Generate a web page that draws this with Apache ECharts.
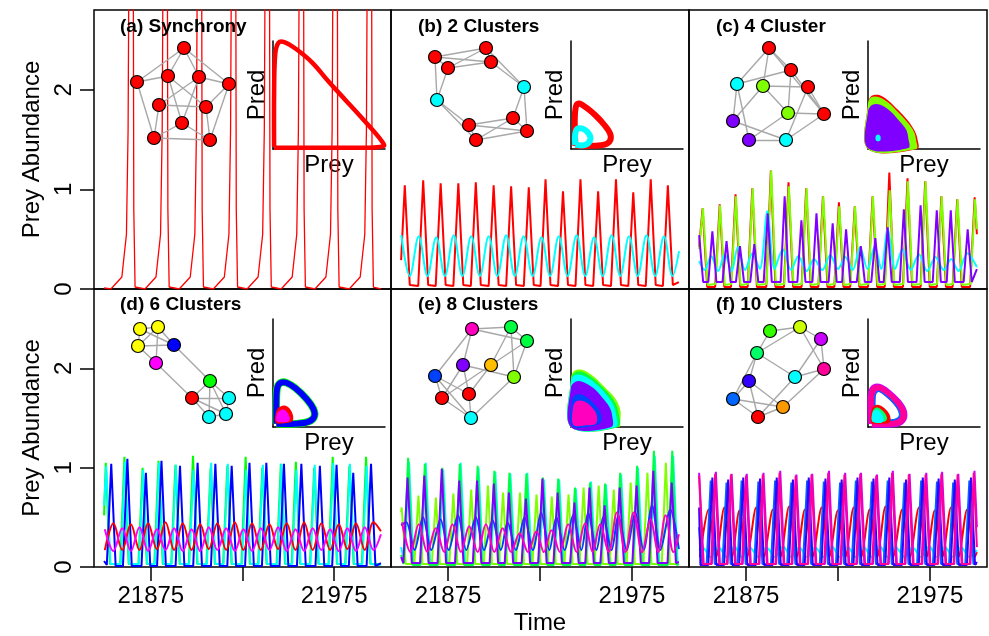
<!DOCTYPE html>
<html>
<head>
<meta charset="utf-8">
<script src="https://cdn.jsdelivr.net/npm/echarts/dist/echarts.min.js"></script>
<style>html,body{margin:0;background:#fff}#main{width:989px;height:636px}</style>
</head>
<body>
<div id="main"></div>
<script>
// ---- axis values ----
var timeTicks = [21875, 21925, 21975];
var timeLabels = [21875, 21975];
var preyTicks = [0, 1, 2];
var titles = ['(a) Synchrony', '(b) 2 Clusters', '(c) 4 Cluster', '(d) 6 Clusters', '(e) 8 Clusters', '(f) 10 Clusters'];

// ---- time series (time, prey) ----
var aRed = [[21849.5,0.01],[21853.2,0],[21859.2,0.12],[21861.7,0.55],[21862.6,1.6],[21863.1,3.5],[21864.2,6],[21865.4,3.5],[21865.7,0.8],[21866.4,0.02],
[21871.8,0],[21877.8,0.12],[21880.3,0.55],[21881.2,1.6],[21881.7,3.5],[21882.8,6],[21884.0,3.5],[21884.3,0.8],[21885.0,0.02],
[21890.5,0],[21896.5,0.12],[21899.0,0.55],[21899.9,1.6],[21900.4,3.5],[21901.5,6],[21902.7,3.5],[21903.0,0.8],[21903.7,0.02],
[21909.1,0],[21915.1,0.12],[21917.6,0.55],[21918.5,1.6],[21919.0,3.5],[21920.1,6],[21921.3,3.5],[21921.6,0.8],[21922.3,0.02],
[21927.5,0],[21933.5,0.12],[21936.0,0.55],[21936.9,1.6],[21937.4,3.5],[21938.5,6],[21939.7,3.5],[21940.0,0.8],[21940.7,0.02],
[21946.1,0],[21952.1,0.12],[21954.6,0.55],[21955.5,1.6],[21956.0,3.5],[21957.1,6],[21958.3,3.5],[21958.6,0.8],[21959.3,0.02],
[21964.5,0],[21970.5,0.12],[21973.0,0.55],[21973.9,1.6],[21974.4,3.5],[21975.5,6],[21976.7,3.5],[21977.0,0.8],[21977.7,0.02],
[21983.2,0],[21989.2,0.12],[21991.7,0.55],[21992.6,1.6],[21993.1,3.5],[21994.2,6],[21995.4,3.5],[21995.7,0.8],[21996.4,0.02],[22000.5,0]];

var bRed = [[21849.5,0.29],[21851.5,1.04],[21854.2,0.04],[21858.8,0.03],[21861.5,1.09],[21864.2,0.04],[21868.3,0.03],[21871.0,1.06],[21873.7,0.04],[21877.9,0.03],[21880.6,1.06],[21883.3,0.04],[21887.4,0.03],[21890.1,1.07],[21892.8,0.04],[21897.1,0.03],[21899.8,1.04],[21902.5,0.04],[21906.6,0.03],[21909.3,1.03],[21912.0,0.04],[21916.2,0.03],[21918.9,1.02],[21921.6,0.04],[21925.3,0.03],[21928.0,1.10],[21930.7,0.04],[21934.8,0.03],[21937.5,0.98],[21940.2,0.04],[21944.3,0.03],[21947.0,1.10],[21949.7,0.04],[21953.9,0.03],[21956.6,0.98],[21959.3,0.04],[21963.6,0.03],[21966.3,1.10],[21969.0,0.04],[21973.0,0.03],[21975.7,0.97],[21978.4,0.04],[21982.5,0.03],[21985.2,1.10],[21987.9,0.04],[21991.8,0.03],[21994.5,1.04],[21997.2,0.04],[22000.5,0.07]];
var bCyan = [[21849.6,0.54],[21854.2,0.13],[21859.1,0.53],[21863.8,0.13],[21868.6,0.52],[21873.3,0.13],[21878.1,0.54],[21882.8,0.13],[21887.6,0.53],[21892.3,0.13],[21897.1,0.53],[21901.8,0.13],[21906.6,0.54],[21911.3,0.13],[21916.1,0.53],[21921.0,0.13],[21925.8,0.52],[21930.5,0.13],[21935.2,0.53],[21940.0,0.13],[21944.9,0.54],[21949.6,0.13],[21954.4,0.52],[21959.1,0.13],[21963.9,0.54],[21968.6,0.13],[21973.4,0.53],[21978.1,0.13],[21982.9,0.54],[21987.6,0.13],[21992.4,0.53],[21997.0,0.13],[22000.6,0.38]];

var cRed = [[21849.5,0.42],[21851.4,0.81],[21853.9,0.02],[21858.2,0.02],[21860.7,0.85],[21863.2,0.02],[21866.8,0.02],[21869.3,0.95],[21871.8,0.02],[21875.9,0.02],[21878.4,1.01],[21880.9,0.02],[21886.0,0.02],[21888.5,1.19],[21891.0,0.02],[21895.6,0.02],[21898.1,1.07],[21900.6,0.02],[21905.2,0.02],[21907.7,1.01],[21910.2,0.02],[21914.3,0.02],[21916.8,0.93],[21919.3,0.02],[21923.0,0.02],[21925.5,0.87],[21928.0,0.02],[21931.6,0.02],[21934.1,0.83],[21936.6,0.02],[21941.3,0.02],[21943.8,0.93],[21946.3,0.02],[21950.4,0.02],[21952.9,1.17],[21955.4,0.02],[21960.3,0.02],[21962.8,1.11],[21965.3,0.02],[21969.9,0.02],[21972.4,1.08],[21974.9,0.02],[21978.7,0.02],[21981.2,0.93],[21983.7,0.02],[21987.3,0.02],[21989.8,0.90],[21992.3,0.02],[21996.8,0.02],[21999.3,0.92],[22000.5,0.55]];
var cGreen = [[21849.5,0.4],[21851.6,0.81],[21854.1,0.04],[21858.4,0.05],[21860.9,0.84],[21863.4,0.04],[21867.0,0.05],[21869.5,0.93],[21872.0,0.04],[21876.1,0.05],[21878.6,1.01],[21881.1,0.04],[21886.2,0.05],[21888.7,1.19],[21891.2,0.04],[21895.8,0.05],[21898.3,1.03],[21900.8,0.04],[21905.4,0.05],[21907.9,1.01],[21910.4,0.04],[21914.5,0.05],[21917.0,0.93],[21919.5,0.04],[21923.2,0.05],[21925.7,0.83],[21928.2,0.04],[21931.8,0.05],[21934.3,0.83],[21936.8,0.04],[21941.5,0.05],[21944.0,0.93],[21946.5,0.04],[21950.6,0.05],[21953.1,0.99],[21955.6,0.04],[21960.5,0.05],[21963.0,1.08],[21965.5,0.04],[21970.1,0.05],[21972.6,1.08],[21975.1,0.04],[21978.9,0.05],[21981.4,0.93],[21983.9,0.04],[21987.5,0.05],[21990.0,0.90],[21992.5,0.04],[21997.0,0.05],[21999.5,0.90],[22000.5,0.6]];
var cCyan = [[21849.5,0.28],[21852.5,0.19],[21856.0,0.33],[21859.8,0.18],[21863.5,0.35],[21867.2,0.18],[21870.5,0.42],[21874.5,0.19],[21878.5,0.36],[21882.5,0.2],[21886.6,0.78],[21890.5,0.2],[21895.0,0.40],[21899.5,0.19],[21903.5,0.33],[21908.0,0.18],[21912.0,0.30],[21916.5,0.19],[21920.8,0.34],[21925.0,0.2],[21929.0,0.32],[21933.0,0.19],[21937.0,0.42],[21941.0,0.2],[21945.0,0.43],[21948.5,0.2],[21952.0,0.61],[21956.0,0.2],[21960.0,0.40],[21964.5,0.19],[21969.0,0.35],[21973.5,0.18],[21978.0,0.32],[21982.5,0.19],[21986.5,0.30],[21990.5,0.18],[21995.3,0.36],[22000.5,0.22]];
var cPurple = [[21849.5,0.54],[21851.7,0.07],[21854.5,0.07],[21856.7,0.58],[21858.9,0.07],[21862.2,0.07],[21864.4,0.48],[21866.6,0.07],[21869.5,0.07],[21871.7,0.43],[21873.9,0.07],[21877.3,0.07],[21879.5,0.45],[21881.7,0.07],[21884.6,0.07],[21886.8,0.76],[21889.0,0.07],[21893.8,0.07],[21896.0,0.93],[21898.2,0.07],[21902.9,0.07],[21905.1,0.69],[21907.3,0.07],[21911.1,0.07],[21913.3,0.76],[21915.5,0.07],[21919.9,0.07],[21922.1,0.66],[21924.3,0.07],[21927.2,0.07],[21929.4,0.60],[21931.6,0.07],[21935.2,0.07],[21937.4,0.43],[21939.6,0.07],[21943.1,0.07],[21945.3,0.51],[21947.5,0.07],[21949.8,0.07],[21952.0,0.62],[21954.2,0.07],[21958.6,0.07],[21960.8,0.80],[21963.0,0.07],[21967.7,0.07],[21969.9,0.84],[21972.1,0.07],[21976.5,0.07],[21978.7,0.79],[21980.9,0.07],[21984.1,0.07],[21986.3,0.79],[21988.5,0.07],[21993.3,0.07],[21995.5,0.60],[21997.7,0.07],[22000.5,0.2]];

var dGreen = [[21849.5,0.52],[21850.4,1.05],[21852.7,0.03],[21858.3,0.03],[21860.6,1.11],[21862.9,0.03],[21868.2,0.03],[21870.5,1.00],[21872.8,0.03],[21876.9,0.03],[21879.2,1.07],[21881.5,0.03],[21886.1,0.03],[21888.4,1.03],[21890.7,0.03],[21895.7,0.03],[21898.0,1.12],[21900.3,0.03],[21905.3,0.03],[21907.6,1.00],[21909.9,0.03],[21914.4,0.03],[21916.7,1.02],[21919.0,0.03],[21924.4,0.03],[21926.7,1.11],[21929.0,0.03],[21933.5,0.03],[21935.8,1.00],[21938.1,0.03],[21943.6,0.03],[21945.9,1.04],[21948.2,0.03],[21951.8,0.03],[21954.1,1.06],[21956.4,0.03],[21961.8,0.03],[21964.1,1.00],[21966.4,0.03],[21971.9,0.03],[21974.2,1.11],[21976.5,0.03],[21981.0,0.03],[21983.3,1.02],[21985.6,0.03],[21990.1,0.03],[21992.4,1.11],[21994.7,0.03],[22000.5,0.03]];
var dCyan = [[21849.5,0.62],[21850.7,1.02],[21853.0,0.03],[21858.6,0.03],[21860.9,1.06],[21863.2,0.03],[21868.5,0.03],[21870.8,0.98],[21873.1,0.03],[21877.2,0.03],[21879.5,1.05],[21881.8,0.03],[21886.4,0.03],[21888.7,1.03],[21891.0,0.03],[21896.0,0.03],[21898.3,0.98],[21900.6,0.03],[21905.6,0.03],[21907.9,1.05],[21910.2,0.03],[21914.7,0.03],[21917.0,1.04],[21919.3,0.03],[21924.7,0.03],[21927.0,0.98],[21929.3,0.03],[21933.8,0.03],[21936.1,1.03],[21938.4,0.03],[21943.9,0.03],[21946.2,1.04],[21948.5,0.03],[21952.1,0.03],[21954.4,0.98],[21956.7,0.03],[21962.1,0.03],[21964.4,1.03],[21966.7,0.03],[21972.2,0.03],[21974.5,1.05],[21976.8,0.03],[21981.3,0.03],[21983.6,1.04],[21985.9,0.03],[21990.4,0.03],[21992.7,1.02],[21995.0,0.03],[22000.5,0.02]];
var dBlue = [[21849.5,0.06],[21851.0,0.02],[21853.4,1.04],[21855.8,0.01],[21859.8,0.01],[21862.2,1.09],[21864.6,0.01],[21869.9,0.01],[21872.3,0.95],[21874.7,0.01],[21878.4,0.01],[21880.8,1.07],[21883.2,0.01],[21888.5,0.01],[21890.9,1.02],[21893.3,0.01],[21898.1,0.01],[21900.5,1.05],[21902.9,0.01],[21907.8,0.01],[21910.2,1.04],[21912.6,0.01],[21916.7,0.01],[21919.1,1.02],[21921.5,0.01],[21926.4,0.01],[21928.8,1.05],[21931.2,0.01],[21935.6,0.01],[21938.0,1.05],[21940.4,0.01],[21945.2,0.01],[21947.6,1.04],[21950.0,0.01],[21954.7,0.01],[21957.1,1.04],[21959.5,0.01],[21964.8,0.01],[21967.2,1.02],[21969.6,0.01],[21973.9,0.01],[21976.3,1.03],[21978.7,0.01],[21983.0,0.01],[21985.4,0.95],[21987.8,0.01],[21992.7,0.01],[21995.1,1.04],[21997.5,0.01],[22000.5,0.04]];
var dRed = [[21849.9,0.17],[21854.6,0.44],[21859.4,0.17],[21864.1,0.43],[21868.8,0.17],[21873.5,0.44],[21878.3,0.18],[21883.0,0.45],[21887.7,0.17],[21892.4,0.44],[21897.2,0.17],[21901.9,0.43],[21906.6,0.18],[21911.3,0.44],[21916.1,0.17],[21920.8,0.45],[21925.5,0.17],[21930.2,0.44],[21935.0,0.17],[21939.7,0.43],[21944.4,0.18],[21949.1,0.44],[21953.9,0.17],[21958.6,0.45],[21963.3,0.17],[21968.0,0.44],[21972.8,0.17],[21977.5,0.43],[21982.2,0.18],[21986.9,0.44],[21991.7,0.17],[21996.4,0.45],[22000.5,0.36]];
var dMagenta = [[21849.9,0.38],[21854.6,0.16],[21859.4,0.39],[21864.1,0.16],[21868.8,0.40],[21873.5,0.16],[21878.3,0.38],[21883.0,0.17],[21887.7,0.39],[21892.4,0.16],[21897.2,0.38],[21901.9,0.16],[21906.6,0.40],[21911.3,0.17],[21916.1,0.39],[21920.8,0.16],[21925.5,0.38],[21930.2,0.16],[21935.0,0.39],[21939.7,0.17],[21944.4,0.40],[21949.1,0.16],[21953.9,0.38],[21958.6,0.16],[21963.3,0.39],[21968.0,0.17],[21972.8,0.38],[21977.5,0.16],[21982.2,0.39],[21986.9,0.16],[21991.7,0.40],[21996.4,0.17],[22000.5,0.33]];

var eCyan = [[21849.5,0.2],[21851.4,0.04],[21853.8,1.06],[21856.2,0.04],[21860.5,0.04],[21862.9,1.05],[21865.3,0.04],[21870.0,0.04],[21872.4,0.98],[21874.8,0.04],[21879.5,0.04],[21881.9,1.05],[21884.3,0.04],[21889.2,0.04],[21891.6,1.00],[21894.0,0.04],[21898.3,0.04],[21900.7,0.96],[21903.1,0.04],[21906.5,0.04],[21908.9,0.94],[21911.3,0.04],[21915.7,0.04],[21918.1,0.95],[21920.5,0.04],[21924.7,0.04],[21927.1,0.88],[21929.5,0.04],[21933.0,0.04],[21935.4,0.88],[21937.8,0.04],[21942.1,0.04],[21944.5,0.79],[21946.9,0.04],[21950.3,0.04],[21952.7,0.86],[21955.1,0.04],[21958.5,0.04],[21960.9,0.83],[21963.3,0.04],[21966.7,0.04],[21969.1,0.93],[21971.5,0.04],[21975.9,0.04],[21978.3,1.00],[21980.7,0.04],[21985.0,0.04],[21987.4,1.12],[21989.8,0.04],[21995.0,0.04],[21997.4,1.12],[21999.8,0.04],[22000.5,0.04]];
var eLime = [[21849.5,0.55],[21849.8,0.6],[21852.0,0.03],[21856.7,0.03],[21858.9,0.72],[21861.1,0.03],[21866.2,0.03],[21868.4,0.70],[21870.6,0.03],[21875.7,0.03],[21877.9,0.74],[21880.1,0.03],[21885.4,0.03],[21887.6,0.78],[21889.8,0.03],[21894.5,0.03],[21896.7,0.82],[21898.9,0.03],[21902.7,0.03],[21904.9,0.75],[21907.1,0.03],[21911.9,0.03],[21914.1,0.75],[21916.3,0.03],[21920.9,0.03],[21923.1,0.73],[21925.3,0.03],[21929.2,0.03],[21931.4,0.71],[21933.6,0.03],[21938.3,0.03],[21940.5,0.73],[21942.7,0.03],[21946.5,0.03],[21948.7,0.80],[21950.9,0.03],[21954.7,0.03],[21956.9,0.82],[21959.1,0.03],[21962.9,0.03],[21965.1,0.78],[21967.3,0.03],[21972.1,0.03],[21974.3,0.85],[21976.5,0.03],[21981.2,0.03],[21983.4,0.95],[21985.6,0.03],[21991.2,0.03],[21993.4,1.05],[21995.6,0.03],[22000.5,0.03]];
var eGreen = [[21849.5,0.12],[21850.9,0.03],[21853.3,1.10],[21855.7,0.02],[21860.0,0.02],[21862.4,1.04],[21864.8,0.02],[21869.5,0.02],[21871.9,1.00],[21874.3,0.02],[21879.0,0.02],[21881.4,1.04],[21883.8,0.02],[21888.7,0.02],[21891.1,1.02],[21893.5,0.02],[21897.8,0.02],[21900.2,0.97],[21902.6,0.02],[21906.0,0.02],[21908.4,0.95],[21910.8,0.02],[21915.2,0.02],[21917.6,0.94],[21920.0,0.02],[21924.2,0.02],[21926.6,0.90],[21929.0,0.02],[21932.5,0.02],[21934.9,0.89],[21937.3,0.02],[21941.6,0.02],[21944.0,0.80],[21946.4,0.02],[21949.8,0.02],[21952.2,0.85],[21954.6,0.02],[21958.0,0.02],[21960.4,0.84],[21962.8,0.02],[21966.2,0.02],[21968.6,0.95],[21971.0,0.02],[21975.4,0.02],[21977.8,1.02],[21980.2,0.02],[21984.5,0.02],[21986.9,1.17],[21989.3,0.02],[21994.5,0.02],[21996.9,1.17],[21999.3,0.02],[22000.5,0.03]];
var eBlue = [[21849.5,0.42],[21852.3,0.45],[21856.8,0.17],[21861.4,0.50],[21865.9,0.17],[21870.9,0.48],[21875.4,0.17],[21880.4,0.52],[21884.9,0.17],[21890.1,0.50],[21894.6,0.17],[21899.2,0.47],[21903.7,0.17],[21907.4,0.45],[21911.9,0.17],[21916.6,0.50],[21921.1,0.17],[21925.6,0.55],[21930.1,0.17],[21933.9,0.50],[21938.4,0.17],[21943.0,0.52],[21947.5,0.17],[21951.2,0.55],[21955.7,0.17],[21959.4,0.50],[21963.9,0.17],[21967.6,0.52],[21972.1,0.17],[21976.8,0.55],[21981.3,0.17],[21985.9,0.62],[21990.4,0.17],[21995.9,0.58],[22000.5,0.18]];
var ePurple = [[21849.5,0.1],[21850.7,0.04],[21853.0,0.90],[21855.3,0.04],[21859.8,0.04],[21862.1,0.92],[21864.4,0.04],[21869.3,0.04],[21871.6,0.99],[21873.9,0.04],[21878.8,0.04],[21881.1,0.87],[21883.4,0.04],[21888.5,0.04],[21890.8,0.87],[21893.1,0.04],[21897.6,0.04],[21899.9,0.84],[21902.2,0.04],[21905.8,0.04],[21908.1,0.75],[21910.4,0.04],[21915.0,0.04],[21917.3,0.69],[21919.6,0.04],[21924.0,0.04],[21926.3,0.89],[21928.6,0.04],[21932.3,0.04],[21934.6,0.75],[21936.9,0.04],[21941.4,0.04],[21943.7,0.65],[21946.0,0.04],[21949.6,0.04],[21951.9,0.80],[21954.2,0.04],[21957.8,0.04],[21960.1,0.62],[21962.4,0.04],[21966.0,0.04],[21968.3,0.80],[21970.6,0.04],[21975.2,0.04],[21977.5,0.82],[21979.8,0.04],[21984.3,0.04],[21986.6,0.97],[21988.9,0.04],[21994.3,0.04],[21996.6,0.85],[21998.9,0.04],[22000.5,0.05]];
var eMagenta = [[21850.0,0.45],[21854.6,0.15],[21859.1,0.43],[21863.7,0.15],[21868.3,0.39],[21872.9,0.15],[21877.4,0.43],[21882.0,0.15],[21886.5,0.41],[21891.1,0.15],[21895.6,0.43],[21900.2,0.15],[21904.7,0.39],[21909.3,0.15],[21913.9,0.34],[21918.5,0.15],[21923.0,0.36],[21927.1,0.15],[21931.2,0.37],[21935.8,0.15],[21940.3,0.43],[21944.9,0.15],[21949.5,0.44],[21953.6,0.15],[21957.7,0.43],[21962.3,0.15],[21966.8,0.55],[21971.4,0.15],[21975.9,0.55],[21980.5,0.15],[21985.1,0.48],[21989.2,0.15],[21993.3,0.52],[21997.5,0.15],[22000.5,0.33]];

var fRed = [[21849.9,0.1],[21854.6,0.58],[21858.7,0.1],[21863.2,0.6],[21867.3,0.1],[21871.4,0.57],[21875.5,0.1],[21880.5,0.6],[21884.6,0.1],[21889.6,0.58],[21893.7,0.1],[21898.4,0.61],[21902.5,0.1],[21907.0,0.58],[21911.1,0.1],[21916.1,0.6],[21920.2,0.1],[21924.9,0.57],[21929.0,0.1],[21933.5,0.6],[21937.6,0.1],[21942.2,0.58],[21946.3,0.1],[21950.8,0.61],[21954.9,0.1],[21959.9,0.58],[21964.0,0.1],[21969.0,0.6],[21973.1,0.1],[21977.6,0.57],[21981.7,0.1],[21986.4,0.6],[21990.5,0.1],[21995.2,0.58],[21999.3,0.1],[22000.5,0.15]];
var fCyan = [[21849.5,0.17],[21851.4,0.2],[21855.7,0.1],[21860.2,0.2],[21864.3,0.1],[21868.8,0.21],[21872.5,0.1],[21877.0,0.2],[21881.6,0.1],[21886.1,0.2],[21890.7,0.1],[21895.2,0.21],[21899.5,0.1],[21904.0,0.2],[21908.1,0.1],[21912.6,0.2],[21917.2,0.1],[21921.7,0.21],[21926.0,0.1],[21930.5,0.2],[21934.6,0.1],[21939.1,0.2],[21943.3,0.1],[21947.8,0.21],[21951.9,0.1],[21956.4,0.2],[21961.0,0.1],[21965.5,0.2],[21970.1,0.1],[21974.6,0.21],[21978.7,0.1],[21983.2,0.2],[21987.5,0.1],[21992.0,0.2],[21996.3,0.1],[22000.5,0.17]];
var fBlue2 = [[21849.5,0.4],[21851.0,0.03],[21853.6,0.03],[21855.8,0.87],[21858.0,0.03],[21862.2,0.03],[21864.4,0.85],[21866.6,0.03],[21870.4,0.03],[21872.6,0.87],[21874.8,0.03],[21879.5,0.03],[21881.7,0.86],[21883.9,0.03],[21888.6,0.03],[21890.8,0.87],[21893.0,0.03],[21897.4,0.03],[21899.6,0.85],[21901.8,0.03],[21906.0,0.03],[21908.2,0.87],[21910.4,0.03],[21915.1,0.03],[21917.3,0.86],[21919.5,0.03],[21923.9,0.03],[21926.1,0.85],[21928.3,0.03],[21932.5,0.03],[21934.7,0.87],[21936.9,0.03],[21941.2,0.03],[21943.4,0.86],[21945.6,0.03],[21949.8,0.03],[21952.0,0.87],[21954.2,0.03],[21958.9,0.03],[21961.1,0.85],[21963.3,0.03],[21968.0,0.03],[21970.2,0.87],[21972.4,0.03],[21976.6,0.03],[21978.8,0.86],[21981.0,0.03],[21985.4,0.03],[21987.6,0.85],[21989.8,0.03],[21994.2,0.03],[21996.4,0.87],[21998.6,0.03],[22000.5,0.03]];
var fBlue = [[21849.5,0.6],[21850.2,0.02],[21854.5,0.02],[21856.7,0.90],[21858.9,0.02],[21863.1,0.02],[21865.3,0.88],[21867.5,0.02],[21871.3,0.02],[21873.5,0.90],[21875.7,0.02],[21880.4,0.02],[21882.6,0.89],[21884.8,0.02],[21889.5,0.02],[21891.7,0.90],[21893.9,0.02],[21898.3,0.02],[21900.5,0.88],[21902.7,0.02],[21906.9,0.02],[21909.1,0.90],[21911.3,0.02],[21916.0,0.02],[21918.2,0.89],[21920.4,0.02],[21924.8,0.02],[21927.0,0.88],[21929.2,0.02],[21933.4,0.02],[21935.6,0.90],[21937.8,0.02],[21942.1,0.02],[21944.3,0.89],[21946.5,0.02],[21950.7,0.02],[21952.9,0.90],[21955.1,0.02],[21959.8,0.02],[21962.0,0.88],[21964.2,0.02],[21968.9,0.02],[21971.1,0.90],[21973.3,0.02],[21977.5,0.02],[21979.7,0.89],[21981.9,0.02],[21986.3,0.02],[21988.5,0.88],[21990.7,0.02],[21995.1,0.02],[21997.3,0.90],[21999.5,0.02],[22000.5,0.05]];
var fPurple = [[21849.5,0.95],[21849.8,0.96],[21852.0,0.03],[21856.4,0.03],[21858.6,0.96],[21860.8,0.03],[21865.0,0.03],[21867.2,0.94],[21869.4,0.03],[21873.2,0.03],[21875.4,0.94],[21877.6,0.03],[21882.3,0.03],[21884.5,0.95],[21886.7,0.03],[21891.4,0.03],[21893.6,0.97],[21895.8,0.03],[21900.2,0.03],[21902.4,0.93],[21904.6,0.03],[21908.8,0.03],[21911.0,0.94],[21913.2,0.03],[21917.9,0.03],[21920.1,0.97],[21922.3,0.03],[21926.7,0.03],[21928.9,0.95],[21931.1,0.03],[21935.3,0.03],[21937.5,0.95],[21939.7,0.03],[21944.0,0.03],[21946.2,0.93],[21948.4,0.03],[21952.6,0.03],[21954.8,0.97],[21957.0,0.03],[21961.7,0.03],[21963.9,0.94],[21966.1,0.03],[21970.8,0.03],[21973.0,0.95],[21975.2,0.03],[21979.4,0.03],[21981.6,0.96],[21983.8,0.03],[21988.2,0.03],[21990.4,0.94],[21992.6,0.03],[21997.0,0.03],[21999.2,0.97],[22000.5,0.4]];
var fMagenta = [[21849.5,0.92],[21851.6,0.03],[21856.0,0.03],[21858.2,0.94],[21860.4,0.03],[21864.6,0.03],[21866.8,0.93],[21869.0,0.03],[21872.8,0.03],[21875.0,0.92],[21877.2,0.03],[21881.9,0.03],[21884.1,0.93],[21886.3,0.03],[21891.0,0.03],[21893.2,0.95],[21895.4,0.03],[21899.8,0.03],[21902.0,0.92],[21904.2,0.03],[21908.4,0.03],[21910.6,0.93],[21912.8,0.03],[21917.5,0.03],[21919.7,0.95],[21921.9,0.03],[21926.3,0.03],[21928.5,0.93],[21930.7,0.03],[21934.9,0.03],[21937.1,0.94],[21939.3,0.03],[21943.6,0.03],[21945.8,0.92],[21948.0,0.03],[21952.2,0.03],[21954.4,0.95],[21956.6,0.03],[21961.3,0.03],[21963.5,0.93],[21965.7,0.03],[21970.4,0.03],[21972.6,0.93],[21974.8,0.03],[21979.0,0.03],[21981.2,0.94],[21983.4,0.03],[21987.8,0.03],[21990.0,0.93],[21992.2,0.03],[21996.6,0.03],[21998.8,0.95],[22000.5,0.2]];

// ---- phase portraits (prey, pred), scaled 0..1 ----
var aLoop = [[0.01,0.02],[0.01,0.5],[0.02,0.88],[0.05,0.985],[0.1,0.99],[0.2,0.93],[0.35,0.8],[0.5,0.62],[0.65,0.45],[0.8,0.28],[0.92,0.14],[0.98,0.06],[0.99,0.03],[0.9,0.015],[0.5,0.012],[0.01,0.012]];
var bRedLoop = [[0.04,0.03],[0.2,0.03],[0.3,0.04],[0.35,0.08],[0.35,0.14],[0.3,0.22],[0.22,0.31],[0.14,0.38],[0.08,0.42],[0.05,0.41],[0.035,0.32],[0.035,0.15],[0.04,0.03]];
var bCyanLoop = [[0.04,0.04],[0.12,0.035],[0.17,0.08],[0.16,0.14],[0.1,0.19],[0.05,0.18],[0.035,0.1],[0.04,0.04]];
var cRedBlob = [[0,0],[0,0.42],[0.03,0.49],[0.1,0.5],[0.18,0.45],[0.27,0.36],[0.35,0.27],[0.41,0.18],[0.44,0.1],[0.44,0]];
var cGreenBlob = [[0,0],[0,0.42],[0.03,0.48],[0.1,0.48],[0.18,0.43],[0.27,0.34],[0.35,0.25],[0.41,0.16],[0.43,0.08],[0.43,0]];
var cPurpleBlob = [[0,0.01],[0,0.35],[0.04,0.41],[0.11,0.41],[0.2,0.35],[0.28,0.26],[0.34,0.18],[0.36,0.1],[0.36,0.01]];
var cCyanDot = [[0.07,0.08],[0.07,0.12],[0.09,0.135],[0.11,0.12],[0.11,0.08],[0.09,0.07]];
var dBlueLoop = [[0.03,0.03],[0.2,0.03],[0.32,0.05],[0.37,0.1],[0.36,0.17],[0.3,0.26],[0.2,0.36],[0.12,0.41],[0.07,0.41],[0.04,0.37],[0.03,0.25],[0.03,0.03]];
var dRedBlob = [[0.025,0.04],[0.025,0.13],[0.05,0.18],[0.1,0.2],[0.15,0.17],[0.18,0.1],[0.17,0.05],[0.1,0.035]];
var dMagentaBlob = [[0.035,0.05],[0.035,0.12],[0.06,0.15],[0.1,0.16],[0.13,0.13],[0.15,0.08],[0.14,0.05],[0.09,0.045]];
var eLimeBlob = [[0,0],[0,0.45],[0.03,0.52],[0.1,0.53],[0.2,0.47],[0.3,0.37],[0.39,0.27],[0.44,0.16],[0.44,0.05],[0.43,0]];
var eGreenBlob = [[0,0],[0,0.44],[0.03,0.5],[0.1,0.51],[0.2,0.45],[0.3,0.35],[0.38,0.25],[0.42,0.15],[0.42,0]];
var eCyanBlob = [[0,0],[0,0.42],[0.03,0.48],[0.1,0.48],[0.2,0.42],[0.3,0.32],[0.37,0.22],[0.4,0.13],[0.4,0]];
var ePurpleBlob = [[0,0],[0,0.37],[0.04,0.42],[0.1,0.42],[0.2,0.36],[0.28,0.27],[0.34,0.19],[0.365,0.12],[0.36,0]];
var eBlueBlob = [[0.01,0.01],[0.01,0.25],[0.05,0.3],[0.12,0.29],[0.2,0.22],[0.26,0.14],[0.27,0.05],[0.2,0.01]];
var eMagentaBlob = [[0.02,0.02],[0.02,0.19],[0.05,0.24],[0.11,0.24],[0.18,0.19],[0.23,0.11],[0.22,0.03],[0.12,0.015]];
var fOuterLoop = [[0.035,0.03],[0.15,0.03],[0.26,0.04],[0.31,0.08],[0.31,0.15],[0.26,0.23],[0.18,0.31],[0.11,0.36],[0.06,0.36],[0.035,0.31],[0.03,0.2],[0.035,0.03]];
var fInnerLoop = [[0.065,0.06],[0.15,0.06],[0.24,0.07],[0.28,0.1],[0.27,0.16],[0.23,0.22],[0.16,0.29],[0.1,0.33],[0.07,0.31],[0.06,0.25],[0.065,0.06]];
var fRedBlob = [[0.03,0.04],[0.03,0.15],[0.06,0.2],[0.11,0.2],[0.17,0.15],[0.2,0.09],[0.19,0.04],[0.1,0.03]];
var fGreenBlob = [[0.04,0.05],[0.04,0.14],[0.07,0.18],[0.11,0.17],[0.15,0.13],[0.17,0.08],[0.15,0.05]];
var fCyanBlob = [[0.04,0.05],[0.04,0.13],[0.07,0.16],[0.1,0.15],[0.13,0.11],[0.14,0.07],[0.12,0.04],[0.07,0.04]];

// ---- networks: node layout + edges ----
var aNodes = [[59,8],[12,42],[43,36],[74,37],[104,44],[34,65],[81,67],[57,83],[29,98],[85,100]];
var aEdges = [[0,1],[0,2],[0,3],[0,4],[1,2],[1,8],[2,6],[2,7],[3,4],[3,5],[3,7],[4,6],[4,9],[5,6],[5,8],[6,9],[7,8],[7,9],[8,9]];
var bNodes = [[10,17],[61,8],[23,28],[66,22],[99,47],[12,60],[88,78],[44,85],[102,91],[51,100]];
var bEdges = [[0,1],[0,2],[0,3],[1,2],[1,3],[2,3],[0,5],[2,5],[3,4],[1,4],[4,6],[4,8],[5,7],[5,9],[6,7],[6,9],[7,8],[8,9],[6,8],[7,9]];
var cNodes = [[44,8],[66,30],[12,44],[38,46],[83,47],[63,73],[99,74],[8,81],[24,100],[61,100]];
var cEdges = [[0,1],[0,2],[0,3],[0,6],[1,2],[1,5],[1,6],[3,4],[3,5],[3,7],[2,7],[2,8],[4,6],[4,9],[5,6],[5,8],[6,9],[7,9],[8,9]];
var dNodes = [[15,11],[33,9],[13,28],[49,27],[31,45],[85,63],[67,80],[104,80],[101,96],[84,99]];
var dEdges = [[0,1],[0,2],[1,2],[0,3],[1,3],[2,3],[1,4],[2,4],[3,5],[4,6],[5,6],[5,7],[5,8],[5,9],[6,7],[6,8],[7,8],[8,9],[6,9]];
var eNodes = [[47,11],[86,9],[102,23],[38,47],[66,47],[10,58],[89,59],[17,80],[44,76],[46,100]];
var eEdges = [[0,1],[0,2],[0,3],[0,5],[1,2],[1,4],[1,6],[2,4],[2,6],[3,6],[3,7],[3,8],[4,7],[4,8],[5,7],[5,8],[5,9],[7,9],[8,9],[6,9]];
var fNodes = [[45,13],[75,9],[96,21],[32,35],[99,51],[70,59],[24,63],[8,81],[58,89],[33,99]];
var fEdges = [[0,1],[0,3],[1,2],[1,3],[1,4],[2,4],[2,5],[3,5],[3,6],[3,7],[4,5],[4,8],[5,9],[6,7],[6,9],[6,8],[7,8],[7,9],[8,9]];

// ---- colours (R rainbow) ----
var RED='#ff0000', CYAN='#00ffff';
var nodeColors = [
  [RED,RED,RED,RED,RED,RED,RED,RED,RED,RED],
  [RED,RED,RED,RED,CYAN,CYAN,RED,RED,RED,RED],
  [RED,RED,CYAN,'#80ff00',RED,'#80ff00',RED,'#8000ff','#8000ff',CYAN],
  ['#ffff00','#ffff00','#ffff00','#0000ff','#ff00ff','#00ff00',RED,CYAN,CYAN,CYAN],
  ['#ff00bf','#00ff40','#00ff40','#8000ff','#ffbf00','#0040ff','#80ff00',RED,RED,CYAN],
  ['#33ff00','#ccff00','#cc00ff','#00ff66','#ff0099',CYAN,'#3300ff','#0066ff','#ff9900',RED]
];

var panelLines = [
  [[aRed,RED,1.3,0]],
  [[bRed,RED,2,0],[bCyan,CYAN,2,0.35]],
  [[cRed,RED,2,0],[cGreen,'#80ff00',2,0],[cCyan,CYAN,2,0.3],[cPurple,'#8000ff',2,0]],
  [[dGreen,'#00ff00',2,0],[dCyan,CYAN,2,0],[dBlue,'#0000ff',2,0],[dRed,RED,2,0.35],[dMagenta,'#ff00ff',2,0.35]],
  [[eCyan,CYAN,2,0],[eLime,'#80ff00',2,0],[eGreen,'#00ff40',2,0],[eBlue,'#0040ff',2,0.3],[ePurple,'#8000ff',2,0],[eMagenta,'#ff00bf',2,0.35]],
  [[fRed,RED,2,0.3],[fCyan,CYAN,2,0.3],[fBlue2,'#0066ff',2,0],[fBlue,'#3300ff',2,0],[fPurple,'#cc00ff',2,0],[fMagenta,'#ff0099',2,0]]
];

var panelLayers = [
  [{pts:aLoop,c:RED,w:4.5}],
  [{pts:bRedLoop,c:RED,w:6},{pts:bCyanLoop,c:CYAN,w:6}],
  [{pts:cRedBlob,c:RED},{pts:cGreenBlob,c:'#80ff00'},{pts:cPurpleBlob,c:'#8000ff'},{pts:cCyanDot,c:CYAN}],
  [{pts:dBlueLoop,c:'#00ff00',w:7.5},{pts:dBlueLoop,c:'#0000ff',w:6},{pts:dRedBlob,c:RED},{pts:dMagentaBlob,c:'#ff00ff'}],
  [{pts:eLimeBlob,c:'#80ff00'},{pts:eGreenBlob,c:'#00ff40'},{pts:eCyanBlob,c:CYAN},{pts:ePurpleBlob,c:'#8000ff'},{pts:eBlueBlob,c:'#0040ff'},{pts:eMagentaBlob,c:'#ff00bf'}],
  [{pts:fOuterLoop,c:'#cc00ff',w:8},{pts:fOuterLoop,c:'#ff0099',w:6},{pts:fInnerLoop,c:'#0066ff',w:1.5},{pts:fRedBlob,c:RED},{pts:fGreenBlob,c:'#00ff66'},{pts:fCyanBlob,c:CYAN}]
];

var panelNets = [[aNodes,aEdges],[bNodes,bEdges],[cNodes,cEdges],[dNodes,dEdges],[eNodes,eEdges],[fNodes,fEdges]];

// ---- layout ----
var FONT = "'Liberation Sans', Arial, Helvetica, sans-serif";
var mainBoxes = [[94,10,297,279],[391,10,298,279],[689,10,298,279],[94,289,297,278],[391,289,298,278],[689,289,298,278]];
var insetLeft = [273,571,868,273,571,868];
var insetTop = [41,41,41,319,319,319];
var netLeft = [125,425,725,125,425,725];
var netTop = [40,40,40,318,318,318];
var titleTop = [17,17,17,295,295,295];
var titleLeft = [120,418,716,120,418,716];

function plain(v) { return String(v); }
var txt = {fontSize:24, color:'#000', fontFamily:FONT};

var grids = [], xAxes = [], yAxes = [], series = [], titleOpts = [];

for (var i = 0; i < 6; i++) {
  var b = mainBoxes[i];
  var bottomRow = i >= 3, leftCol = (i % 3 === 0);
  grids.push({left:b[0], top:b[1], width:b[2], height:b[3], show:true, borderColor:'#000', borderWidth:1.5});
  xAxes.push({gridIndex:i, type:'value', min:21844, max:22006,
    axisLine:{show:false}, splitLine:{show:false},
    axisTick:{show:bottomRow, customValues:timeTicks, length:14, lineStyle:{color:'#000', width:1.5}},
    axisLabel:{show:bottomRow, customValues:timeLabels, formatter:plain, margin:17, fontSize:24, color:'#000', fontFamily:FONT},
    name: i === 4 ? 'Time' : '', nameLocation:'middle', nameGap:44, nameTextStyle:txt});
  yAxes.push({gridIndex:i, type:'value', min:0, max:2.8,
    axisLine:{show:false}, splitLine:{show:false},
    axisTick:{show:leftCol, customValues:preyTicks, length:14, lineStyle:{color:'#000', width:1.5}},
    axisLabel:{show:leftCol, customValues:preyTicks, formatter:plain, rotate:90, margin:18, fontSize:24, color:'#000', fontFamily:FONT},
    name: leftCol ? 'Prey Abundance' : '', nameLocation:'middle', nameGap:50, nameTextStyle:txt});
  panelLines[i].forEach(function (s) {
    series.push({type:'line', xAxisIndex:i, yAxisIndex:i, data:s[0], symbol:'none', smooth:s[3],
      lineStyle:{color:s[1], width:s[2]}, itemStyle:{color:s[1]}, silent:true, z:2});
  });
  titleOpts.push({text:titles[i], left:titleLeft[i], top:titleTop[i], padding:0,
    textStyle:{fontSize:19, fontWeight:'bold', color:'#000', fontFamily:FONT}});
}

for (var j = 0; j < 6; j++) {
  var gi = 6 + j;
  grids.push({left:insetLeft[j], top:insetTop[j], width:112, height:108});
  xAxes.push({gridIndex:gi, type:'value', min:0, max:1,
    axisLine:{show:true, onZero:false, lineStyle:{color:'#000', width:1.5}},
    axisTick:{show:false}, axisLabel:{show:false}, splitLine:{show:false},
    name:'Prey', nameLocation:'middle', nameGap:4, nameTextStyle:txt});
  yAxes.push({gridIndex:gi, type:'value', min:0, max:1,
    axisLine:{show:true, onZero:false, lineStyle:{color:'#000', width:1.5}},
    axisTick:{show:false}, axisLabel:{show:false}, splitLine:{show:false},
    name:'Pred', nameLocation:'middle', nameGap:4, nameTextStyle:txt});
  panelLayers[j].forEach(function (layer) {
    series.push({type:'custom', xAxisIndex:gi, yAxisIndex:gi, data:[[0,0]], silent:true, z:3,
      renderItem: function (params, api) {
        var pts = layer.pts.map(function (p) { return api.coord(p); });
        if (layer.w) {
          return {type:'polyline', shape:{points:pts, smooth:0.35},
            style:{stroke:layer.c, lineWidth:layer.w, fill:null, lineJoin:'round'}};
        }
        return {type:'polygon', shape:{points:pts, smooth:0.35}, style:{fill:layer.c}};
      }});
  });
}

for (var k = 0; k < 6; k++) {
  var ni = 12 + k;
  grids.push({left:netLeft[k], top:netTop[k], width:110, height:110});
  xAxes.push({gridIndex:ni, type:'value', min:0, max:110, show:false});
  yAxes.push({gridIndex:ni, type:'value', min:0, max:110, inverse:true, show:false});
  var cols = nodeColors[k];
  series.push({type:'graph', coordinateSystem:'cartesian2d', xAxisIndex:ni, yAxisIndex:ni,
    symbolSize:13, z:4, silent:true,
    data: panelNets[k][0].map(function (n, idx) {
      return {value:n, itemStyle:{color:cols[idx], borderColor:'#000', borderWidth:1.2}};
    }),
    links: panelNets[k][1].map(function (e) { return {source:e[0], target:e[1]}; }),
    lineStyle:{color:'#a8a8a8', width:1.4, opacity:1, curveness:0},
    label:{show:false}});
}

var chart = echarts.init(document.getElementById('main'));
chart.setOption({
  animation:false,
  backgroundColor:'#fff',
  title:titleOpts,
  grid:grids,
  xAxis:xAxes,
  yAxis:yAxes,
  series:series
});
</script>
</body>
</html>
